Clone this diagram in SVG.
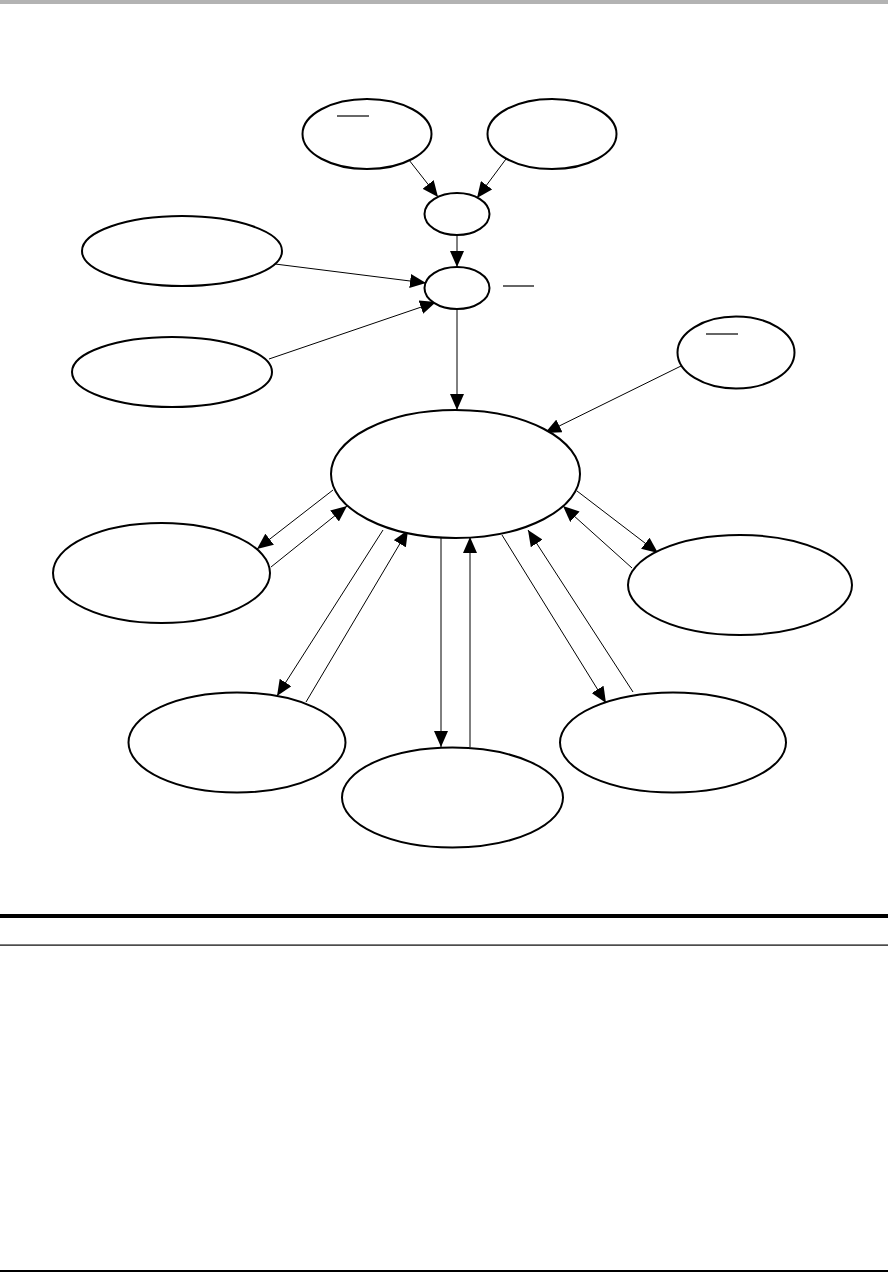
<svg xmlns="http://www.w3.org/2000/svg" width="888" height="1272" viewBox="0 0 888 1272">
<style>
.node{fill:#fff;stroke:#000;stroke-width:2}
.edge{stroke:#000;stroke-width:1;fill:none;marker-end:url(#ah)}
.ul{stroke:#000;stroke-width:1.2}
</style>
<defs>
<marker id="ah" markerUnits="userSpaceOnUse" markerWidth="18" markerHeight="14" refX="16" refY="7" orient="auto">
<path d="M0,0 L16,7 L0,14 Z" fill="#000"/>
</marker>
</defs>
<rect x="0" y="0" width="888" height="4" fill="#b3b3b3"/>
<g id="connectors">
<line class="edge" x1="409" y1="160" x2="438" y2="197"/>
<line class="edge" x1="506" y1="159" x2="477" y2="198"/>
<line class="edge" x1="457" y1="235" x2="457" y2="267"/>
<line class="edge" x1="275" y1="264" x2="426" y2="283"/>
<line class="edge" x1="269" y1="359" x2="436" y2="302"/>
<line class="edge" x1="457" y1="309" x2="457" y2="410"/>
<line class="edge" x1="681" y1="366" x2="545" y2="433"/>
<line class="edge" x1="333" y1="490" x2="257" y2="549"/>
<line class="edge" x1="271" y1="567" x2="347" y2="506"/>
<line class="edge" x1="383" y1="530" x2="277" y2="696"/>
<line class="edge" x1="306" y1="702" x2="408" y2="530"/>
<line class="edge" x1="441" y1="538" x2="441" y2="747"/>
<line class="edge" x1="470" y1="747" x2="470" y2="537"/>
<line class="edge" x1="502" y1="535" x2="606" y2="703"/>
<line class="edge" x1="633" y1="692" x2="528" y2="530"/>
<line class="edge" x1="577" y1="491" x2="658" y2="553"/>
<line class="edge" x1="632" y1="568" x2="563" y2="506"/>
</g>
<g id="n-topleft"><ellipse class="node" cx="367" cy="134" rx="64.5" ry="35"/><line class="ul" x1="337" y1="116" x2="369" y2="116"/></g>
<g id="n-topright"><ellipse class="node" cx="552" cy="134" rx="64.5" ry="35"/></g>
<g id="n-small1"><ellipse class="node" cx="457" cy="214" rx="32.5" ry="21"/></g>
<g id="n-small2"><ellipse class="node" cx="457" cy="288" rx="32.5" ry="21"/><line class="ul" x1="503" y1="286" x2="534" y2="286"/></g>
<g id="n-leftA"><ellipse class="node" cx="182" cy="251" rx="100" ry="35"/></g>
<g id="n-leftB"><ellipse class="node" cx="172" cy="372" rx="100" ry="35"/></g>
<g id="n-rightsmall"><ellipse class="node" cx="736" cy="352.5" rx="58.5" ry="36"/><line class="ul" x1="706" y1="334" x2="738" y2="334"/></g>
<g id="n-center"><ellipse class="node" cx="455.5" cy="474" rx="124.5" ry="64"/></g>
<g id="n-left"><ellipse class="node" cx="161.5" cy="573" rx="108.5" ry="50"/></g>
<g id="n-lowerleft"><ellipse class="node" cx="237" cy="742.5" rx="108.5" ry="50"/></g>
<g id="n-bottom"><ellipse class="node" cx="452.5" cy="797.5" rx="110.5" ry="50"/></g>
<g id="n-lowerright"><ellipse class="node" cx="673" cy="742.5" rx="113" ry="50"/></g>
<g id="n-right"><ellipse class="node" cx="740" cy="585" rx="112" ry="50"/></g>
<rect x="0" y="914" width="888" height="4" fill="#000"/>
<rect x="0" y="944.5" width="888" height="1.2" fill="#000"/>
<rect x="0" y="1270" width="888" height="2" fill="#000"/>
</svg>
